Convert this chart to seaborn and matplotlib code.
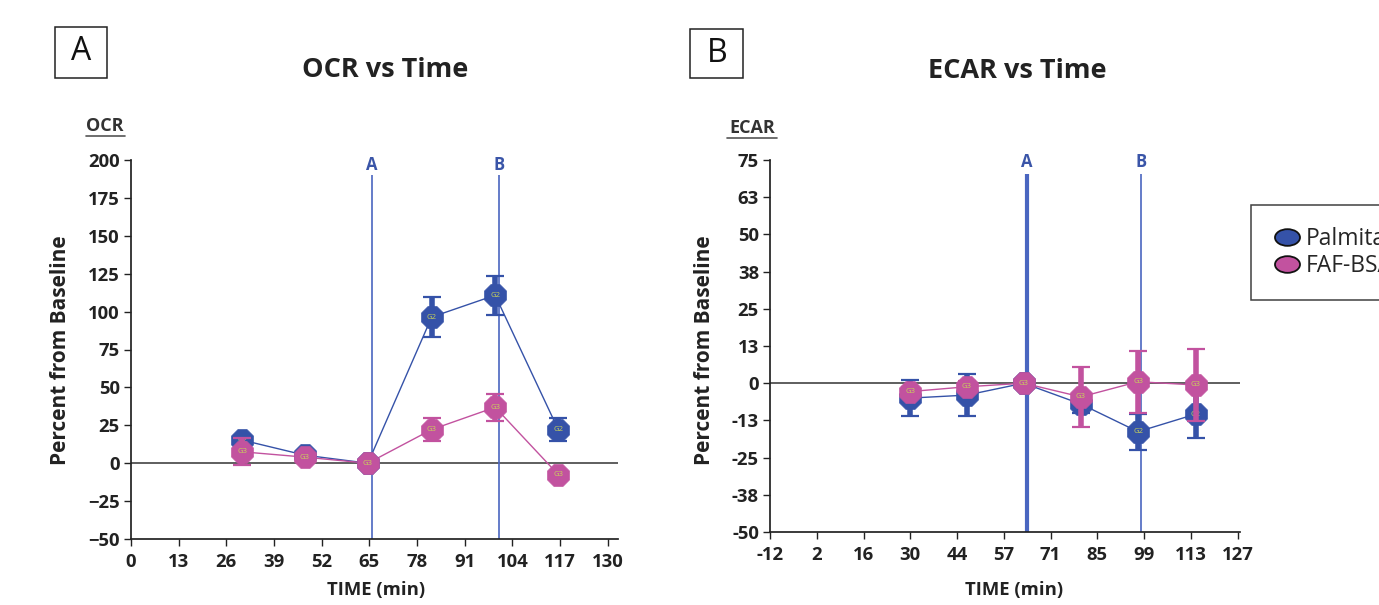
import numpy as np
import pandas as pd
import matplotlib
matplotlib.use("Agg")
import matplotlib.pyplot as plt
import seaborn as sns
from matplotlib.lines import Line2D
from matplotlib.path import Path
from matplotlib.transforms import Affine2D

# ---------------- data ----------------
groups = ["Palmitate", "FAF-BSA"]
group_tags = ["G2", "G3"]
group_colors = ["#3552a8", "#c2529f"]

time_ocr = [30.4, 47.4, 64.6, 82.0, 99.3, 116.5]
ocr_palmitate = [15.2, 5.3, 0.0, 96.4, 110.8, 22.2]
ocr_palmitate_err = [3.0, 2.0, 1.0, 13.0, 13.0, 7.5]
ocr_fafbsa = [7.5, 4.0, 0.0, 22.2, 36.9, -7.5]
ocr_fafbsa_err = [9.0, 2.0, 1.0, 7.5, 8.8, 2.0]

time_ecar = [29.7, 46.5, 63.4, 80.4, 97.4, 114.5]
ecar_palmitate = [-5.0, -4.0, 0.0, -7.0, -16.3, -10.4]
ecar_palmitate_err = [6.0, 7.0, 1.0, 3.0, 6.0, 8.0]
ecar_fafbsa = [-2.8, -1.2, 0.0, -4.6, 0.5, -0.6]
ecar_fafbsa_err = [1.5, 2.0, 1.0, 10.0, 10.4, 12.0]

inject_labels = ["A", "B"]
inject_ocr = [65.6, 100.3]
inject_ecar = [64.4, 98.4]

ocr_xticks = [0, 13, 26, 39, 52, 65, 78, 91, 104, 117, 130]
ocr_yticks = [-50, -25, 0, 25, 50, 75, 100, 125, 150, 175, 200]
ecar_xtick_labels = ["-12", "2", "16", "30", "44", "57", "71", "85", "99", "113", "127"]
ecar_ytick_labels = ["-50", "-38", "-25", "-13", "0", "13", "25", "38", "50", "63", "75"]

# ---------------- style ----------------
sns.set_theme(style="ticks")
plt.rcParams["font.family"] = ["Open Sans", "DejaVu Sans"]
plt.rcParams["axes.edgecolor"] = "#222222"
plt.rcParams["xtick.color"] = "#222222"
plt.rcParams["ytick.color"] = "#222222"

W, H = 1379, 605
fig = plt.figure(figsize=(W / 100, H / 100), dpi=100)

TICK_FS = 13.3


def fx(px):
    return px / W


def fy(py):
    return 1 - py / H


def make_df(t, a, ae, b, be):
    return pd.DataFrame({
        "time": list(t) + list(t),
        "value": list(a) + list(b),
        "err": list(ae) + list(be),
        "group": [groups[0]] * len(t) + [groups[1]] * len(t),
    })


def draw_panel(ax, df, inject_x, inject_lw, line_top, label_y, ylim):
    ax.axhline(0, color="#333333", lw=1.1, zorder=1)
    for xv, lab, lw in zip(inject_x, inject_labels, inject_lw):
        ax.vlines(xv, ylim[0], line_top, color="#4a66c0", lw=lw, zorder=1)
        ax.text(xv, label_y, lab, color="#3a55a8", fontsize=12,
                fontweight="bold", ha="center", va="center")
    sns.lineplot(data=df, x="time", y="value", hue="group", palette=group_colors,
                 hue_order=groups, lw=1.0, ax=ax, legend=False, sort=False,
                 errorbar=None, zorder=2)
    for i, (g, c, tag) in enumerate(zip(groups, group_colors, group_tags)):
        d = df[df["group"] == g]
        ax.errorbar(d["time"], d["value"], yerr=d["err"], fmt="none",
                    ecolor=c, elinewidth=4, capsize=6.5, capthick=1.6,
                    zorder=3 + 2 * i)
        sns.scatterplot(data=d, x="time", y="value", color=c, marker="8",
                        s=290, edgecolor=c, linewidth=0.5, ax=ax,
                        legend=False, zorder=4 + 2 * i)
        for xv, yv in zip(d["time"], d["value"]):
            ax.text(xv, yv, tag, fontsize=5.5, color="#c9d35a", ha="center",
                    va="center", zorder=4.5 + 2 * i)
    ax.set_xlabel("")
    ax.set_ylabel("")
    sns.despine(ax=ax)
    ax.tick_params(axis="both", direction="out", length=5, width=1,
                   labelsize=TICK_FS, pad=3)
    ax.tick_params(axis="x", pad=5)


def bold_ticks(ax):
    for lab in ax.get_xticklabels() + ax.get_yticklabels():
        lab.set_fontweight("bold")
        lab.set_fontsize(TICK_FS)


# ---------------- panel A ----------------
axA = fig.add_axes([fx(131), fy(539), fx(618 - 131), (539 - 160) / H])
dfA = make_df(time_ocr, ocr_palmitate, ocr_palmitate_err, ocr_fafbsa, ocr_fafbsa_err)
draw_panel(axA, dfA, inject_ocr, [1.2, 1.2], 190, 196.5, (-50, 200))
axA.set_xlim(0, 132.8)
axA.set_ylim(-50, 200)
axA.set_xticks(ocr_xticks)
axA.set_yticks(ocr_yticks)
bold_ticks(axA)

# ---------------- panel B ----------------
axB = fig.add_axes([fx(770), fy(532), fx(1240 - 770), (532 - 160) / H])
dfB = make_df(time_ecar, ecar_palmitate, ecar_palmitate_err, ecar_fafbsa, ecar_fafbsa_err)
draw_panel(axB, dfB, inject_ecar, [3.0, 1.2], 70.4, 74.2, (-50, 75))
axB.set_xlim(-12, 127.7)
axB.set_ylim(-50, 75)
axB.set_xticks(np.linspace(-12, 127, 11))
axB.set_xticklabels(ecar_xtick_labels)
axB.set_yticks(np.linspace(-50, 75, 11))
axB.set_yticklabels(ecar_ytick_labels)
bold_ticks(axB)

# ---------------- texts ----------------
fig.text(fx(385), fy(70), "OCR vs Time", fontsize=19.5, fontweight="bold",
         ha="center", va="center", color="#222222")
fig.text(fx(1017), fy(71), "ECAR vs Time", fontsize=19.5, fontweight="bold",
         ha="center", va="center", color="#222222")

for cx, cy, lab, box in [(81, 52, "A", (55, 27, 107, 78)), (717, 53, "B", (690, 29, 743, 78))]:
    fig.text(fx(cx), fy(cy), lab, fontsize=23, ha="center", va="center",
             color="#111111")
    x0, y0, x1, y1 = box
    fig.add_artist(plt.Rectangle((fx(x0), fy(y1)), fx(x1 - x0), (y1 - y0) / H,
                                 fill=False, ec="#222222", lw=1.1,
                                 transform=fig.transFigure))

for cx, cy, lab, ux in [(105, 126, "OCR", (86, 125)), (752, 128, "ECAR", (727, 777))]:
    fig.text(fx(cx), fy(cy), lab, fontsize=13, fontweight="bold",
             ha="center", va="center", color="#333333")
    fig.add_artist(Line2D([fx(ux[0]), fx(ux[1])], [fy(cy + 10), fy(cy + 10)],
                          color="#555555", lw=1.2, transform=fig.transFigure))

for cx in (60, 705):
    fig.text(fx(cx), fy(350), "Percent from Baseline", fontsize=15,
             fontweight="bold", rotation=90, ha="center", va="center",
             color="#222222")
fig.text(fx(376), fy(590), "TIME (min)", fontsize=13.3, fontweight="bold",
         ha="center", va="center", color="#222222")
fig.text(fx(1014), fy(590), "TIME (min)", fontsize=13.3, fontweight="bold",
         ha="center", va="center", color="#222222")

# ---------------- legend (partly beyond the right edge, as in the reference) ----------------
ell = Path.unit_circle().transformed(Affine2D().scale(1.5, 1.0))
handles = [Line2D([], [], ls="none", marker=ell, markersize=18,
                  markerfacecolor=c, markeredgecolor="#111111",
                  markeredgewidth=1.3) for c in group_colors]
leg = fig.legend(handles, groups, loc="upper left",
                 bbox_to_anchor=(fx(1251), fy(205)), frameon=True,
                 fancybox=False, edgecolor="#111111", fontsize=16.5,
                 handletextpad=0.25, labelspacing=0.15, borderpad=0.96,
                 handlelength=1.2, borderaxespad=0)
leg.get_frame().set_linewidth(1.1)

fig.savefig("out.png", dpi=100)
